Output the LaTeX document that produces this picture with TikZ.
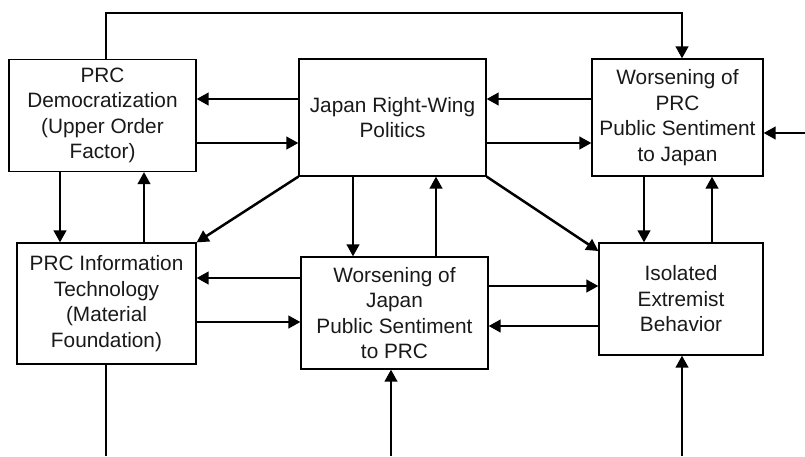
\documentclass[tikz,border=0pt]{standalone}
\usepackage{fontspec}
\setmainfont{Liberation Sans}
\usetikzlibrary{arrows.meta}
\begin{document}
\begin{tikzpicture}[x=1pt,y=-1pt,
  box/.style={draw, line width=1.2pt, rectangle, align=center, inner sep=0pt,
    font=\fontsize{20.8}{25.5}\selectfont, text=black!90},
  arr/.style={line width=2.5pt, -{Triangle[length=12pt,width=12.5pt]}},
  ln/.style={line width=2.5pt}]
\useasboundingbox (0,0) rectangle (805,456);

\node[box, minimum width=187pt, minimum height=112pt] (A) at (102.5,115.5) {PRC\\Democratization\\(Upper Order\\Factor)};
\node[box, minimum width=187pt, minimum height=117pt] (B) at (392.5,117.5) {Japan Right-Wing\\Politics};
\node[box, minimum width=171pt, minimum height=117pt] (C) at (677.5,117.5) {Worsening of\\PRC\\Public Sentiment\\to Japan};
\node[box, minimum width=179pt, minimum height=121pt] (D) at (106.5,303.5) {PRC Information\\Technology\\(Material\\Foundation)};
\node[box, minimum width=187pt, minimum height=112pt] (E) at (394.5,313) {Worsening of\\Japan\\Public Sentiment\\to PRC};
\node[box, minimum width=164pt, minimum height=112pt] (F) at (681,299) {Isolated\\Extremist\\Behavior};

\coordinate (t1) at (106,13);
\coordinate (inR) at (805,133);
\coordinate (outD) at (106,456);
\coordinate (inE) at (391,456);
\coordinate (inF) at (682,456);

% top loop A -> C
\draw[arr] (A.north -| t1) -- (t1) -| (C.north -| 682,0);

% A <-> B
\draw[arr] (B.west |- 0,99) -- (A.east |- 0,99);
\draw[arr] (A.east |- 0,143) -- (B.west |- 0,143);
% B <-> C
\draw[arr] (C.west |- 0,99) -- (B.east |- 0,99);
\draw[arr] (B.east |- 0,143) -- (C.west |- 0,143);
% external into C
\draw[arr] (inR) -- (C.east |- inR);

% A <-> D
\draw[arr] (A.south -| 60,0) -- (D.north -| 60,0);
\draw[arr] (D.north -| 144,0) -- (A.south -| 144,0);
% B diagonals
\draw[arr] (B.south west) -- (D.north east);
\draw[arr] (B.south east) -- (F.west |- 0,251);
% B <-> E
\draw[arr] (B.south -| 353,0) -- (E.north -| 353,0);
\draw[arr] (E.north -| 436,0) -- (B.south -| 436,0);
% C <-> F
\draw[arr] (C.south -| 644,0) -- (F.north -| 644,0);
\draw[arr] (F.north -| 712,0) -- (C.south -| 712,0);
% D <-> E
\draw[arr] (E.west |- 0,278) -- (D.east |- 0,278);
\draw[arr] (D.east |- 0,322) -- (E.west |- 0,322);
% E <-> F
\draw[arr] (E.east |- 0,286) -- (F.west |- 0,286);
\draw[arr] (F.west |- 0,326) -- (E.east |- 0,326);

% bottom lines
\draw[ln] (D.south -| outD) -- (outD);
\draw[arr] (inE) -- (E.south -| inE);
\draw[arr] (inF) -- (F.south -| inF);
\end{tikzpicture}
\end{document}
